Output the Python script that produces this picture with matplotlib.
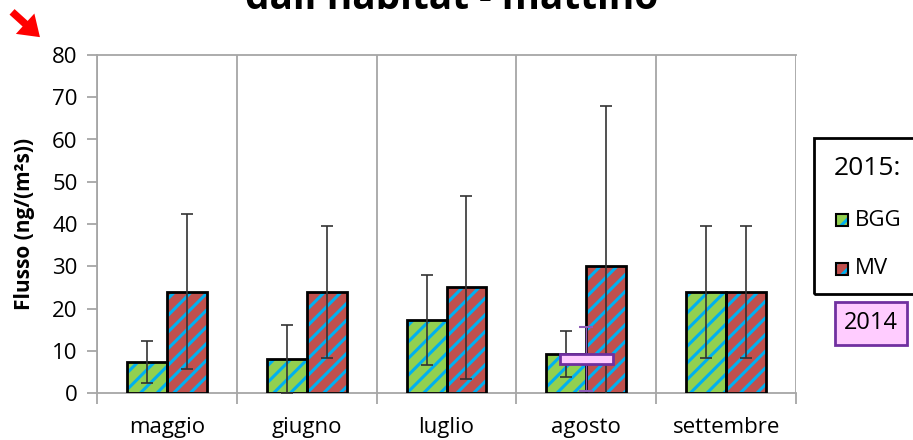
import matplotlib
matplotlib.use("Agg")
import matplotlib.pyplot as plt
import numpy as np
from matplotlib.patches import Rectangle, FancyArrowPatch

plt.rcParams['font.family'] = ['Open Sans', 'DejaVu Sans']
plt.rcParams['hatch.linewidth'] = 2.2

# data
months = ["maggio", "giugno", "luglio", "agosto", "settembre"]
bgg = [7.3, 8.0, 17.3, 9.2, 24.0]
bgg_err = [5.0, 8.0, 10.7, 5.4, 15.6]
mv = [24.0, 24.0, 25.0, 30.0, 24.0]
mv_err = [18.3, 15.6, 21.7, 38.0, 15.6]
# 2014 value (agosto only)
val_2014 = 8.0
err_2014 = 7.6
month_2014 = "agosto"

W, H = 913, 440
fig = plt.figure(figsize=(W / 100, H / 100), dpi=100)
ax = fig.add_axes([97 / W, 1 - 393 / H, (796 - 97) / W, (393 - 55) / H])

x = np.arange(len(months))
bw = 0.285
hatch_col = "#00B0F0"
grid_col = "#A6A6A6"

series = [(bgg, bgg_err, "#92D050", -bw / 2), (mv, mv_err, "#C0504D", bw / 2)]
for vals, errs, col, off in series:
    ax.bar(x + off, vals, bw, color=col, edgecolor=hatch_col, hatch="//", linewidth=0, zorder=2)
    ax.bar(x + off, vals, bw, fill=False, edgecolor="black", linewidth=2, zorder=3)
    ax.errorbar(x + off, vals, yerr=errs, fmt="none", ecolor="#333333",
                elinewidth=1.2, capsize=4.5, capthick=1.2, zorder=4)

# 2014 marker
i14 = months.index(month_2014)
ax.errorbar([i14], [val_2014], yerr=[err_2014], fmt="none", ecolor="#8E5CB8",
            elinewidth=1, capsize=5, capthick=1.5, zorder=5)
ax.add_patch(Rectangle((i14 - 0.19, val_2014 - 1.15), 0.38, 2.3, facecolor="#FFCCFF",
                       edgecolor="#7030A0", linewidth=2, zorder=6))

ax.set_xlim(-0.5, len(months) - 0.5)
ax.set_ylim(0, 80)
ax.set_yticks(np.arange(0, 81, 10))
ax.set_xticks(x)
ax.set_xticklabels(months, fontsize=16)
ax.tick_params(axis="x", which="major", length=0, pad=17)
ax.set_xticks(np.arange(-0.5, len(months), 1), minor=True)
ax.tick_params(axis="x", which="minor", length=8, color=grid_col, width=1.3)
ax.tick_params(axis="y", labelsize=16, length=7, color=grid_col, width=1.3, pad=7)
ax.grid(axis="x", which="minor", color=grid_col, linewidth=1.3, zorder=0)
ax.set_axisbelow(True)
for s in ax.spines.values():
    s.set_color(grid_col)
    s.set_linewidth(1.3)
ax.spines["right"].set_visible(False)
ax.set_ylabel("Flusso (ng/(m²s))", fontsize=15, fontweight="bold")
ax.yaxis.set_label_coords(-62 / (796 - 97), 0.5)

# title (cut off at the top, as in the original)
fig.text(452 / W, 1 - 9 / H, "dall'habitat - mattino", fontsize=28, fontweight="bold",
         ha="center", va="baseline")

# red arrow
fig.patches.append(FancyArrowPatch((10 / W, 1 - 10 / H), (42 / W, 1 - 39 / H),
                                   transform=fig.transFigure,
                                   arrowstyle="simple,head_length=1.6,head_width=2.2,tail_width=0.6",
                                   color="red", linewidth=0, mutation_scale=9))

# legend drawn by hand
def fx(px):
    return px / W

def fy(py):
    return 1 - py / H

fig.patches.append(Rectangle((fx(814), fy(294)), fx(930) - fx(814), fy(138) - fy(294),
                             transform=fig.transFigure, fill=False, edgecolor="black", linewidth=2))
fig.text(fx(834), fy(168), "2015:", fontsize=19, va="center", ha="left")
labels = ["BGG", "MV"]
colors = ["#92D050", "#C0504D"]
for k, (lab, col) in enumerate(zip(labels, colors)):
    yc = 220 + 49 * k
    fig.patches.append(Rectangle((fx(836), fy(yc + 6)), fx(848) - fx(836), fy(yc - 6) - fy(yc + 6),
                                 transform=fig.transFigure, facecolor=col, edgecolor=hatch_col,
                                 hatch="//", linewidth=0))
    fig.patches.append(Rectangle((fx(836), fy(yc + 6)), fx(848) - fx(836), fy(yc - 6) - fy(yc + 6),
                                 transform=fig.transFigure, fill=False, edgecolor="black", linewidth=1.5))
    fig.text(fx(855), fy(yc), lab, fontsize=16, va="center", ha="left")

fig.patches.append(Rectangle((fx(835), fy(345)), fx(907) - fx(835), fy(302) - fy(345),
                             transform=fig.transFigure, facecolor="#FFCCFF", edgecolor="#7030A0", linewidth=2))
fig.text(fx(871), fy(323), "2014", fontsize=17, va="center", ha="center")

fig.savefig("out.png", dpi=100)
